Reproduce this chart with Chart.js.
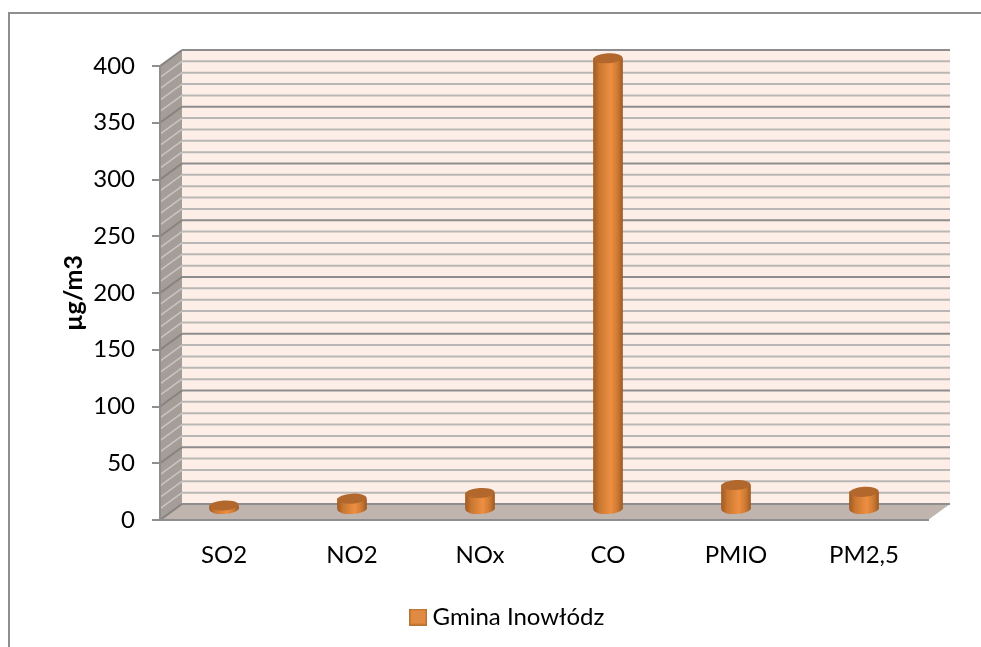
<!DOCTYPE html>
<html lang="pl">
<head>
  <meta charset="UTF-8">
  <title>Gmina Inowłódz</title>
  <style>
    html, body { margin: 0; background: #fff; overflow: hidden; }
    .frame {
      position: absolute;
      left: 8px; top: 12px; right: 0; bottom: 0;
      border-left: 2px solid #8e8e8e;
      border-top: 2px solid #8e8e8e;
    }
    canvas { position: absolute; left: 0; top: 0; }
  </style>
</head>
<body>
<div class="frame"></div>
<canvas id="chart" width="981" height="647"></canvas>

<script src="https://cdnjs.cloudflare.com/ajax/libs/Chart.js/4.4.0/chart.umd.min.js"></script>
<script>
  const categories = ['SO2', 'NO2', 'NOx', 'CO', 'PMIO', 'PM2,5'];
  const seriesName = 'Gmina Inowłódz';
  const values = [4, 10, 15, 398, 22, 16];
  const axisTitle = 'µg/m3';

  // fake 3D box: how far the back wall sits from the front edges
  const depthX = 22;
  const depthY = 16;
  const barLift = 10;
  const barWidth = 29;
  const capHeight = 5;
  const minorStep = 10;
  const majorStep = 50;
  const legendShift = 46;

  const line = (ctx, x1, y1, x2, y2, color, width) => {
    ctx.strokeStyle = color;
    ctx.lineWidth = width;
    ctx.beginPath();
    ctx.moveTo(x1, y1);
    ctx.lineTo(x2, y2);
    ctx.stroke();
  };

  const poly = (ctx, points, color) => {
    ctx.fillStyle = color;
    ctx.beginPath();
    points.forEach((p, i) => i ? ctx.lineTo(p[0], p[1]) : ctx.moveTo(p[0], p[1]));
    ctx.closePath();
    ctx.fill();
  };

  const barGradient = (ctx, cx) => {
    const g = ctx.createLinearGradient(cx - barWidth / 2, 0, cx + barWidth / 2, 0);
    g.addColorStop(0, '#a35a22');
    g.addColorStop(0.2, '#c97731');
    g.addColorStop(0.6, '#ee8f42');
    g.addColorStop(0.85, '#c97731');
    g.addColorStop(1, '#a05a24');
    return g;
  };

  // legend swatch as a small canvas so it can sit closer to the text
  const swatch = document.createElement('canvas');
  swatch.width = 18;
  swatch.height = 17;
  const sc = swatch.getContext('2d');
  sc.fillStyle = '#b8732f';
  sc.fillRect(0, 0, 18, 17);
  sc.fillStyle = '#e08a42';
  sc.fillRect(1.5, 1.5, 15, 14);

  const box3d = {
    id: 'box3d',
    afterLayout(chart) {
      chart.legend.left += legendShift;
      chart.legend.right += legendShift;
    },
    beforeDraw(chart) {
      const { ctx, chartArea: a, scales: { y } } = chart;
      const y0 = y.getPixelForValue(0);
      const yTop = y.getPixelForValue(y.max);
      ctx.save();
      ctx.fillStyle = '#fdeee7';
      ctx.fillRect(a.left + depthX, yTop - depthY, a.right - a.left, y0 - yTop);
      poly(ctx, [[a.left, yTop], [a.left + depthX, yTop - depthY], [a.left + depthX, y0 - depthY], [a.left, y0]], '#a59d98');
      poly(ctx, [[a.left, y0], [a.left + depthX, y0 - depthY], [a.right + depthX, y0 - depthY], [a.right, y0]], '#bfb4ae');
      for (let v = 0; v <= y.max; v += minorStep) {
        const py = y.getPixelForValue(v);
        const major = v % majorStep === 0;
        line(ctx, a.left + depthX, py - depthY, a.right + depthX, py - depthY, major ? '#8d8d8d' : '#b9b7b5', 2);
        line(ctx, a.left, py, a.left + depthX, py - depthY, major ? '#868280' : '#c9c5c2', major ? 2 : 1.5);
      }
      ctx.restore();
    },
    beforeDatasetDraw(chart) {
      const { ctx } = chart;
      ctx.save();
      ctx.translate(0, -barLift);
      chart.getDatasetMeta(0).data.forEach(bar => {
        ctx.fillStyle = barGradient(ctx, bar.x);
        ctx.beginPath();
        ctx.ellipse(bar.x, bar.base, barWidth / 2, capHeight, -0.06, 0, Math.PI * 2);
        ctx.fill();
      });
    },
    afterDatasetDraw(chart) {
      const { ctx } = chart;
      chart.getDatasetMeta(0).data.forEach(bar => {
        ctx.fillStyle = '#b2682c';
        ctx.beginPath();
        ctx.ellipse(bar.x, bar.y, barWidth / 2, capHeight, -0.06, 0, Math.PI * 2);
        ctx.fill();
      });
      ctx.restore();
    }
  };

  new Chart(document.getElementById('chart'), {
    type: 'bar',
    data: {
      labels: categories,
      datasets: [{
        label: seriesName,
        data: values,
        barThickness: barWidth,
        clip: false,
        borderWidth: 0,
        backgroundColor: c => {
          if (c.type !== 'data' || !c.chart.chartArea) return '#e08a42';
          return barGradient(c.chart.ctx, c.chart.scales.x.getPixelForValue(c.dataIndex));
        }
      }]
    },
    plugins: [box3d],
    options: {
      responsive: false,
      animation: false,
      layout: { padding: { top: 66, right: 53, bottom: 8, left: 0 } },
      plugins: {
        tooltip: { enabled: false },
        legend: {
          position: 'bottom',
          labels: {
            usePointStyle: true,
            boxWidth: 5,
            padding: 12,
            color: '#000',
            font: { family: 'Lato', size: 24 },
            generateLabels: () => [{
              text: seriesName,
              pointStyle: swatch,
              fillStyle: '#e08a42',
              datasetIndex: 0
            }]
          }
        }
      },
      scales: {
        x: {
          grid: { display: false },
          border: { color: '#8e8e8e', width: 2 },
          ticks: { color: '#000', padding: 13, maxRotation: 0, font: { family: 'Lato', size: 24 } },
          afterFit: s => { s.height = 73; }
        },
        y: {
          min: 0,
          max: 400,
          ticks: { stepSize: majorStep, color: '#000', padding: 17, font: { family: 'Lato', size: 24 } },
          grid: { drawOnChartArea: false, tickLength: 8, color: '#8e8e8e', lineWidth: 2 },
          border: { color: '#8e8e8e', width: 2 },
          title: {
            display: true,
            text: axisTitle,
            color: '#000',
            padding: { top: 59, bottom: 0 },
            font: { family: 'Lato', size: 25, weight: 'bold' }
          },
          afterFit: s => { s.width = 160; }
        }
      }
    }
  });
</script>
</body>
</html>
